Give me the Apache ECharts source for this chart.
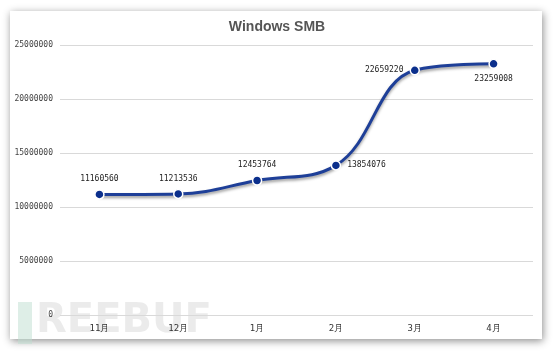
<!DOCTYPE html>
<html><head><meta charset="utf-8">
<script src="https://cdn.jsdelivr.net/npm/echarts@6/dist/echarts.min.js"></script>
<style>html,body{margin:0;padding:0;background:#fff}#c{width:554px;height:351px}</style>
</head><body><div id="c"></div>
<script>
const categories = ['11月','12月','1月','2月','3月','4月'];
const values = [11160560, 11213536, 12453764, 13854076, 22659220, 23259008];
const yTicks = [0, 5000000, 10000000, 15000000, 20000000, 25000000];
const labelPos = ['top','top','top','right','left','bottom'];

const chart = echarts.init(document.getElementById('c'));
chart.setOption({
  animation: false,
  backgroundColor: '#fff',
  graphic: [
    {type:'rect', shape:{x:10,y:11,width:532,height:328}, style:{fill:'#fff', shadowBlur:8, shadowColor:'rgba(0,0,0,0.45)', shadowOffsetX:1, shadowOffsetY:2}, z:-10},
    {type:'rect', shape:{x:18,y:302,width:14,height:42}, style:{fill:'rgba(190,222,208,0.5)'}, z:-5},
    {type:'text', left:36, top:302, style:{text:'REEBUF', fill:'rgba(210,210,210,0.45)', font:'bold 40px "DejaVu Sans"'}, z:-5}
  ],
  title: {
    text: 'Windows SMB', left: 'center', top: 15,
    textStyle: {fontSize: 14, fontWeight: 'bold', color: '#555', fontFamily: 'Liberation Sans'}
  },
  grid: {left: 60, right: 21, top: 45, bottom: 36},
  xAxis: {
    type: 'category', data: categories, boundaryGap: true,
    axisLine: {show: false}, axisTick: {show: false},
    axisLabel: {color: '#333', fontSize: 9, margin: 9, fontFamily: 'DejaVu Sans Mono'}
  },
  yAxis: {
    type: 'value', min: 0, max: 25000000, interval: 5000000,
    axisLine: {show: false}, axisTick: {show: false},
    axisLabel: {color: '#444', fontSize: 8, margin: 7, fontFamily: 'DejaVu Sans Mono', formatter: v => String(v)},
    splitLine: {lineStyle: {color: '#d9d9d9', width: 1}}
  },
  series: [{
    type: 'line', smooth: 0.4,
    data: values.map((v, i) => ({value: v, label: {position: labelPos[i]}})),
    symbol: 'circle', symbolSize: 9,
    lineStyle: {color: '#1e3f98', width: 3, shadowColor: 'rgba(0,0,0,0.4)', shadowBlur: 3, shadowOffsetY: 2},
    itemStyle: {color: '#0b2f8c', borderColor: '#fff', borderWidth: 1.5},
    label: {show: true, color: '#222', fontSize: 8, distance: 6, fontFamily: 'DejaVu Sans Mono'}
  }]
});
</script></body></html>
